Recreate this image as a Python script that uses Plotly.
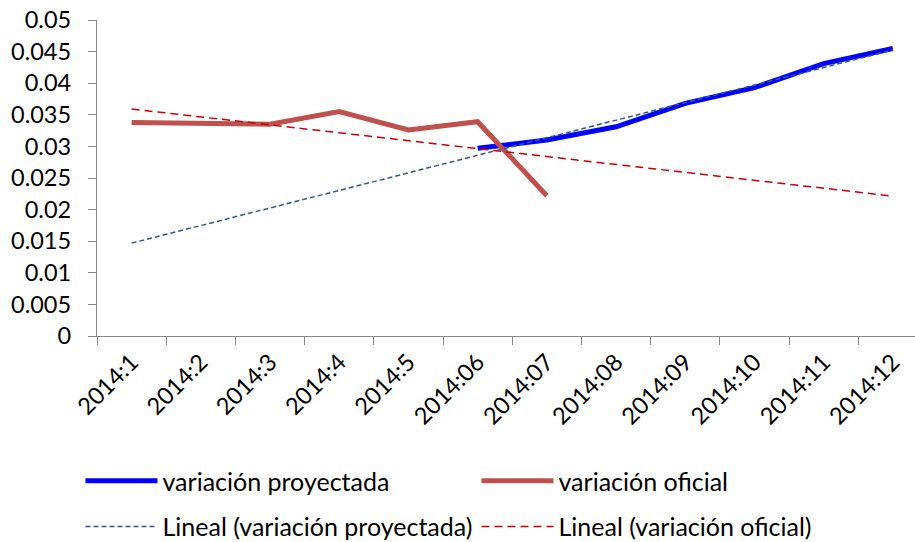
import numpy as np
import plotly.graph_objects as go

categories = ["2014:1", "2014:2", "2014:3", "2014:4", "2014:5", "2014:06",
              "2014:07", "2014:08", "2014:09", "2014:10", "2014:11", "2014:12"]
proyectada = [None, None, None, None, None, 0.0297, 0.0310, 0.0331, 0.0368, 0.0393, 0.0431, 0.0455]
oficial = [0.0338, 0.0336, 0.0335, 0.0355, 0.0326, 0.0339, 0.0222, None, None, None, None, None]
y_ticks = [0, 0.005, 0.01, 0.015, 0.02, 0.025, 0.03, 0.035, 0.04, 0.045, 0.05]
y_labels = ["0", "0.005", "0.01", "0.015", "0.02", "0.025", "0.03", "0.035", "0.04", "0.045", "0.05"]


def linear_trend(values):
    idx = np.arange(1, len(values) + 1)
    mask = np.array([v is not None for v in values])
    vals = np.array([v for v in values if v is not None], dtype=float)
    slope, intercept = np.polyfit(idx[mask], vals, 1)
    return list(slope * idx + intercept)


FONT = "Lato"
TICK_SIZE = 23.5
LEG_SIZE = 25
fig = go.Figure()
fig.add_trace(go.Scatter(x=categories, y=proyectada, mode="lines", name="variación proyectada",
                         line=dict(color="#0000FF", width=5), legend="legend",
                         connectgaps=False))
fig.add_trace(go.Scatter(x=categories, y=oficial, mode="lines", name="variación oficial",
                         line=dict(color="#C0504D", width=5), legend="legend"))
fig.add_trace(go.Scatter(x=categories, y=linear_trend(proyectada), mode="lines",
                         name="Lineal (variación proyectada)",
                         line=dict(color="#2F5A8E", width=1.5, dash="5px,3px"), legend="legend2"))
fig.add_trace(go.Scatter(x=categories, y=linear_trend(oficial), mode="lines",
                         name="Lineal (variación oficial)",
                         line=dict(color="#CC0000", width=1.5, dash="8px,5px"), legend="legend2"))

axis_color = "#868686"
fig.update_layout(
    width=915, height=542,
    margin=dict(l=97, r=0, t=20, b=206, autoexpand=False),
    paper_bgcolor="white", plot_bgcolor="white",
    font=dict(family=FONT, size=TICK_SIZE, color="black"),
    xaxis=dict(type="category", range=[-0.5, 11.32], tickson="boundaries",
               showline=True, linecolor=axis_color, linewidth=1.3,
               ticks="outside", ticklen=8, tickcolor=axis_color, tickwidth=1.3,
               tickangle=-45, showgrid=False, zeroline=False, automargin=False,
               ticklabelstandoff=2,
               tickfont=dict(family=FONT, size=TICK_SIZE, color="black")),
    yaxis=dict(range=[0, 0.05], tickvals=y_ticks, ticktext=y_labels,
               showline=True, linecolor=axis_color, linewidth=1.3,
               ticks="outside", ticklen=8, tickcolor=axis_color, tickwidth=1.3,
               showgrid=False, zeroline=False, ticklabelstandoff=12, automargin=False,
               tickfont=dict(family=FONT, size=TICK_SIZE, color="black")),
    legend=dict(orientation="h", x=-0.0202, xanchor="left", y=-0.459, yanchor="middle",
                itemwidth=72, entrywidth=309, entrywidthmode="pixels",
                font=dict(family=FONT, size=LEG_SIZE, color="black"), bgcolor="rgba(0,0,0,0)"),
    legend2=dict(orientation="h", x=-0.0202, xanchor="left", y=-0.604, yanchor="middle",
                 itemwidth=72, entrywidth=309, entrywidthmode="pixels",
                 font=dict(family=FONT, size=LEG_SIZE, color="black"), bgcolor="rgba(0,0,0,0)"),
    showlegend=True,
)

fig.write_html(
    "out.html",
    config={"displayModeBar": False},
    post_script=("document.body.style.margin='0px';"
                 "document.body.style.overflow='hidden';"
                 "document.documentElement.style.overflow='hidden';"),
)
